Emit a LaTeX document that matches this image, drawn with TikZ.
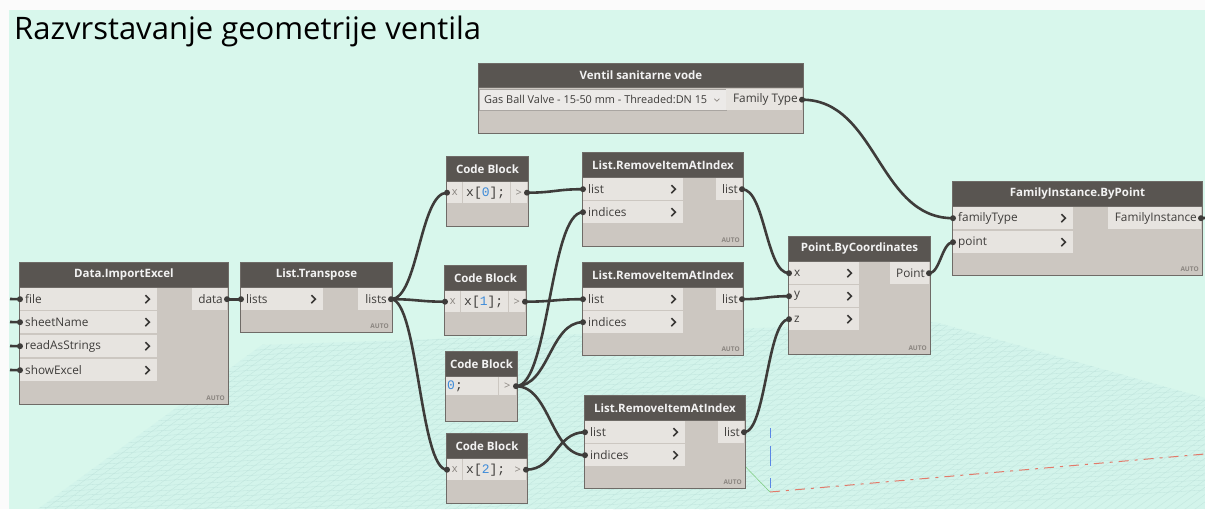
\documentclass[tikz,border=0pt]{standalone}
\usepackage{fontspec}
\setmainfont{Open Sans}
\newfontfamily\codefont{Liberation Mono}
\usetikzlibrary{calc}
\definecolor{bgc}{HTML}{D8F7EC}
\definecolor{gridfill}{HTML}{D3F4EB}
\definecolor{gridc}{HTML}{BEE3DC}
\definecolor{wirec}{HTML}{3E3C3A}
\definecolor{headc}{HTML}{595551}
\definecolor{bodyc}{HTML}{CCC7C1}
\definecolor{rowc}{HTML}{E7E4E0}
\definecolor{bordc}{HTML}{6F6B67}
\definecolor{headtxt}{HTML}{F2F2F2}
\definecolor{portc}{HTML}{3E3C3A}
\definecolor{chevc}{HTML}{3A3836}
\definecolor{autoc}{HTML}{8A8580}
\definecolor{numc}{HTML}{3D8BD9}
\definecolor{ddc}{HTML}{ECEAE8}
\definecolor{ddb}{HTML}{A9A5A1}
\definecolor{axred}{HTML}{E27A6A}
\definecolor{axblue}{HTML}{5A86E6}
\definecolor{axgreen}{HTML}{7ACB7A}
\tikzset{
 wire/.style={draw=wirec, line width=2.6pt},
 body/.style={draw=bordc, line width=0.9pt, fill=bodyc, anchor=north west, inner sep=0pt, rectangle},
 head/.style={draw=bordc, line width=0.9pt, fill=headc, anchor=north west, inner sep=0pt, text=headtxt, font=\fontsize{11.5}{13}\selectfont\bfseries},
 rowbox/.style={fill=rowc, inner sep=0pt, rectangle},
 ptext/.style={inner sep=0pt, text=portc, font=\fontsize{11.8}{13}\selectfont},
 codet/.style={inner sep=0pt, text=portc, font=\fontsize{13}{14}\codefont},
 graytxt/.style={inner sep=0pt, text=autoc, font=\fontsize{11}{13}\selectfont},
 chevp/.style={draw=chevc, line width=1.6pt},
 autot/.style={inner sep=0pt, text=autoc, font=\fontsize{6.5}{7}\selectfont\bfseries, anchor=south east},
 knob/.style={circle, fill=wirec, inner sep=0pt, minimum size=6pt},
}
\newcommand\dynbox[6]{%
 \node[body, minimum width=#4pt, minimum height=#5pt] (#1) at (#2,#3) {};
 \node[head, minimum width=#4pt, minimum height=25pt] (#1h) at (#2,#3) {#6};}
\newcommand\autolbl[1]{\node[autot] (#1auto) at ([xshift=-4pt,yshift=4pt]#1.south east) {AUTO};}
\newcommand\inport[6]{%
 \node[rowbox, anchor=north west, minimum width=#4pt, minimum height=#5pt] (#1) at (#2,#3) {};
 \node[ptext, anchor=west] (#1t) at ([xshift=5pt]#1.west) {#6};}
\newcommand\outport[6]{%
 \node[rowbox, anchor=north east, minimum width=#4pt, minimum height=#5pt] (#1) at (#2,#3) {};
 \node[ptext, anchor=east] (#1t) at ([xshift=-4pt]#1.east) {#6};}
\newcommand\chev[1]{\draw[chevp] ($(#1.east)+(-12,-4)$) -- ++(4,4) -- ++(-4,4);}
\newcommand\knob[2]{\node[knob] (#1k#2) at (#1.#2) {};}
\begin{document}
\begin{tikzpicture}[x=1pt,y=-1pt]
\useasboundingbox (0,0) rectangle (1205,509);
\fill[white!97!gray] (0,0) rectangle (1205,509);
\fill[bgc] (9,10) rectangle (1205,509);
% background grid plane
\begin{scope}
\clip (38,509) -- (262,345) -- (935,322) -- (1205,398) -- (1205,509) -- cycle;
\fill[gridfill] (0,300) rectangle (1205,509);
\foreach \xx in {-400,-390,...,1400} {\draw[gridc, line width=0.3pt] (\xx,520) -- ++(330,-240);}
\foreach \yy in {300,305,...,560} {\draw[gridc, line width=0.3pt] (0,\yy) -- (1205,\yy-70);}
\end{scope}
\draw[axgreen, line width=0.5pt] (700,420) -- (770,492);
\draw[axblue, line width=1pt, dash pattern=on 10pt off 8pt on 20pt off 12pt] (770,428) -- (770,492);
\draw[axred, line width=1pt, dash pattern=on 10pt off 6pt on 3pt off 6pt] (770,492) -- (1205,454);
% title
\node[anchor=base west, inner sep=0pt, font=\fontsize{31}{35}\selectfont, text=black] (title) at (14,39) {Razvrstavanje geometrije ventila};

% Ventil sanitarne vode
\node[body, minimum width=325pt, minimum height=70pt] (ven) at (478,63) {};
\node[head, minimum width=325pt, minimum height=24pt] (venh) at (478,63) {Ventil sanitarne vode};
\node[draw=ddb, fill=ddc, anchor=north west, minimum width=247pt, minimum height=21pt, inner sep=0pt] (venDD) at (479,89) {};
\node[inner sep=0pt, anchor=west, text=portc, font=\fontsize{10.9}{12}\selectfont] (venDDt) at ([xshift=5pt]venDD.west) {Gas Ball Valve - 15-50 mm - Threaded:DN 15};
\draw[autoc, line width=0.7pt] ($(venDD.east)+(-12,-1)$) -- ++(2.5,2.5) -- ++(2.5,-2.5);
\outport{venFT}{802}{89}{76}{21}{Family Type}

% FamilyInstance.ByPoint
\dynbox{fi}{952}{181}{250}{94}{FamilyInstance.ByPoint}
\inport{fiType}{953}{207}{120}{22}{familyType}\chev{fiType}
\inport{fiPoint}{953}{231}{120}{22}{point}\chev{fiPoint}
\outport{fiOut}{1201}{207}{93}{22}{FamilyInstance}
\autolbl{fi}

% Data.ImportExcel
\dynbox{die}{19}{262}{209}{142}{Data.ImportExcel}
\inport{dieFile}{20}{288}{137}{22}{file}\chev{dieFile}
\inport{dieSheet}{20}{311}{137}{22}{sheetName}\chev{dieSheet}
\inport{dieRead}{20}{335}{137}{22}{readAsStrings}\chev{dieRead}
\inport{dieShow}{20}{359}{137}{22}{showExcel}\chev{dieShow}
\outport{dieData}{227}{288}{35}{22}{data}
\autolbl{die}

% List.Transpose
\dynbox{lt}{240}{262}{152}{70}{List.Transpose}
\inport{ltIn}{241}{288}{82}{22}{lists}\chev{ltIn}
\outport{ltOut}{391}{288}{33}{22}{lists}
\autolbl{lt}

% Code Block A
\dynbox{cbA}{446}{156}{82}{70}{Code Block}
\node[rowbox, anchor=north west, minimum width=15pt, minimum height=21pt] (cbAx) at (447,182) {};
\node[graytxt] (cbAxt) at (cbAx) {x};
\node[rowbox, anchor=north west, minimum width=47pt, minimum height=21pt] (cbAc) at (463,182) {};
\node[codet, anchor=west] (cbAct) at ([xshift=3pt]cbAc.west) {x[\textcolor{numc}{0}];};
\node[rowbox, anchor=north east, minimum width=16pt, minimum height=21pt] (cbAo) at (527,182) {};
\node[graytxt] (cbAot) at (cbAo) {>};

% Code Block B
\dynbox{cbB}{444}{265}{82}{70}{Code Block}
\node[rowbox, anchor=north west, minimum width=15pt, minimum height=21pt] (cbBx) at (445,291) {};
\node[graytxt] (cbBxt) at (cbBx) {x};
\node[rowbox, anchor=north west, minimum width=47pt, minimum height=21pt] (cbBc) at (461,291) {};
\node[codet, anchor=west] (cbBct) at ([xshift=3pt]cbBc.west) {x[\textcolor{numc}{1}];};
\node[rowbox, anchor=north east, minimum width=16pt, minimum height=21pt] (cbBo) at (525,291) {};
\node[graytxt] (cbBot) at (cbBo) {>};

% Code Block C
\dynbox{cbC}{445}{351}{72}{70}{Code Block}
\node[rowbox, anchor=north west, minimum width=52pt, minimum height=18pt] (cbCc) at (446,377) {};
\node[codet, anchor=west] (cbCct) at ([xshift=1pt]cbCc.west) {\textcolor{numc}{0};};
\node[rowbox, anchor=north east, minimum width=17pt, minimum height=18pt] (cbCo) at (516,377) {};
\node[graytxt] (cbCot) at (cbCo) {>};

% Code Block D
\dynbox{cbD}{446}{433}{81}{70}{Code Block}
\node[rowbox, anchor=north west, minimum width=15pt, minimum height=21pt] (cbDx) at (447,459) {};
\node[graytxt] (cbDxt) at (cbDx) {x};
\node[rowbox, anchor=north west, minimum width=47pt, minimum height=21pt] (cbDc) at (463,459) {};
\node[codet, anchor=west] (cbDct) at ([xshift=3pt]cbDc.west) {x[\textcolor{numc}{2}];};
\node[rowbox, anchor=north east, minimum width=16pt, minimum height=21pt] (cbDo) at (526,459) {};
\node[graytxt] (cbDot) at (cbDo) {>};

% List.RemoveItemAtIndex A
\dynbox{rA}{582}{152}{161}{94}{List.RemoveItemAtIndex}
\inport{rA1}{583}{178}{100}{22}{list}\chev{rA1}
\inport{rA2}{583}{201}{100}{22}{indices}\chev{rA2}
\outport{rAo}{742}{178}{26}{22}{list}
\autolbl{rA}

% List.RemoveItemAtIndex B
\dynbox{rB}{582}{262}{161}{93}{List.RemoveItemAtIndex}
\inport{rB1}{583}{288}{100}{22}{list}\chev{rB1}
\inport{rB2}{583}{311}{100}{22}{indices}\chev{rB2}
\outport{rBo}{742}{288}{26}{22}{list}
\autolbl{rB}

% List.RemoveItemAtIndex C
\dynbox{rC}{584}{395}{161}{93}{List.RemoveItemAtIndex}
\inport{rC1}{585}{421}{100}{22}{list}\chev{rC1}
\inport{rC2}{585}{444}{100}{22}{indices}\chev{rC2}
\outport{rCo}{744}{421}{26}{22}{list}
\autolbl{rC}

% Point.ByCoordinates
\dynbox{pbc}{788}{236}{142}{118}{Point.ByCoordinates}
\inport{pbcX}{789}{262}{70}{22}{x}\chev{pbcX}
\inport{pbcY}{789}{285}{70}{22}{y}\chev{pbcY}
\inport{pbcZ}{789}{308}{70}{22}{z}\chev{pbcZ}
\outport{pbcOut}{929}{262}{39}{22}{Point}
\autolbl{pbc}

% free ends of stubs
\coordinate (eFile) at (10,299);
\coordinate (eSheet) at (10,322);
\coordinate (eRead) at (10,346);
\coordinate (eShow) at (10,370);
\coordinate (eFI) at (1205,218);

% wires
\draw[wire] (eFile) -- (dieFile.west);
\draw[wire] (eSheet) -- (dieSheet.west);
\draw[wire] (eRead) -- (dieRead.west);
\draw[wire] (eShow) -- (dieShow.west);
\draw[wire] (fiOut.east) -- (eFI);
\draw[wire] (venFT.east) .. controls +(75,0) and +(-75,0) .. (fiType.west);
\draw[wire] (pbcOut.east) .. controls +(11,0) and +(-11,0) .. (fiPoint.west);
\draw[wire] (dieData.east) -- (ltIn.west);
\draw[wire] (ltOut.east) .. controls +(27,0) and +(-27,0) .. (cbAx.west);
\draw[wire] (ltOut.east) .. controls +(26,0) and +(-26,0) .. (cbBx.west);
\draw[wire] (ltOut.east) .. controls +(27,0) and +(-27,0) .. (cbDx.west);
\draw[wire] (cbAo.east) .. controls +(27,0) and +(-27,0) .. (rA1.west);
\draw[wire] (cbBo.east) .. controls +(28,0) and +(-28,0) .. (rB1.west);
\draw[wire] (cbDo.east) .. controls +(29,0) and +(-29,0) .. (rC1.west);
\draw[wire] (cbCo.east) .. controls +(33,0) and +(-33,0) .. (rA2.west);
\draw[wire] (cbCo.east) .. controls +(33,0) and +(-33,0) .. (rB2.west);
\draw[wire] (cbCo.east) .. controls +(34,0) and +(-34,0) .. (rC2.west);
\draw[wire] (rAo.east) .. controls +(23,0) and +(-23,0) .. (pbcX.west);
\draw[wire] (rBo.east) .. controls +(23,0) and +(-23,0) .. (pbcY.west);
\draw[wire] (rCo.east) .. controls +(22,0) and +(-22,0) .. (pbcZ.west);

% knobs
\knob{dieFile}{west}\knob{dieSheet}{west}\knob{dieRead}{west}\knob{dieShow}{west}
\knob{dieData}{east}\knob{ltIn}{west}\knob{ltOut}{east}
\knob{cbAx}{west}\knob{cbAo}{east}\knob{cbBx}{west}\knob{cbBo}{east}
\knob{cbCo}{east}\knob{cbDx}{west}\knob{cbDo}{east}
\knob{rA1}{west}\knob{rA2}{west}\knob{rAo}{east}
\knob{rB1}{west}\knob{rB2}{west}\knob{rBo}{east}
\knob{rC1}{west}\knob{rC2}{west}\knob{rCo}{east}
\knob{pbcX}{west}\knob{pbcY}{west}\knob{pbcZ}{west}\knob{pbcOut}{east}
\knob{venFT}{east}\knob{fiType}{west}\knob{fiPoint}{west}\knob{fiOut}{east}
\end{tikzpicture}
\end{document}
